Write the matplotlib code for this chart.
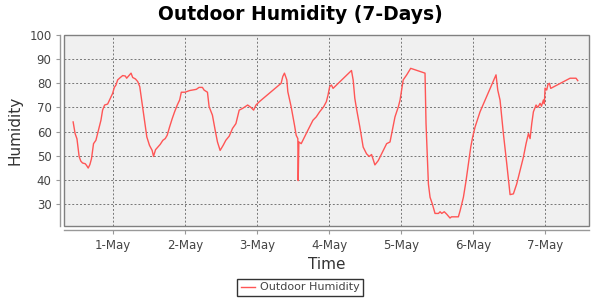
import matplotlib
matplotlib.use("Agg")
import matplotlib.pyplot as plt
import matplotlib.dates as mdates
from matplotlib.patches import Rectangle
import datetime as dt

# Time offsets in days from 1-May 00:00, and humidity readings
day_offsets = [
    -0.553, -0.526, -0.50, -0.47, -0.447, -0.423, -0.386, -0.367, -0.344, -0.321,
    -0.298, -0.27, -0.237, -0.20, -0.167, -0.144, -0.116, -0.074, -0.037, -0.005,
    0.019, 0.042, 0.065, 0.102, 0.135, 0.172, 0.19, 0.219, 0.251, 0.274,
    0.312, 0.344, 0.372, 0.405, 0.437, 0.47, 0.507, 0.544, 0.563, 0.591,
    0.623, 0.656, 0.693, 0.726, 0.753, 0.786, 0.823, 0.856, 0.893, 0.926,
    0.949, 1.0, 1.065, 1.158, 1.195, 1.242, 1.265, 1.312, 1.335, 1.381,
    1.419, 1.451, 1.488, 1.53, 1.567, 1.614, 1.66, 1.707, 1.753, 1.80,
    1.87, 1.916, 1.953, 1.986, 2.033, 2.335, 2.358, 2.381, 2.414, 2.428,
    2.474, 2.521, 2.544, 2.567, 2.572, 2.581, 2.614, 2.66, 2.707, 2.777,
    2.823, 2.87, 2.926, 2.963, 2.986, 3.009, 3.033, 3.056, 3.312, 3.335,
    3.358, 3.381, 3.428, 3.474, 3.521, 3.558, 3.591, 3.637, 3.684, 3.753,
    3.80, 3.847, 3.87, 3.916, 3.963, 3.986, 4.03, 4.079, 4.134, 4.333,
    4.347, 4.38, 4.403, 4.435, 4.472, 4.52, 4.542, 4.565, 4.60, 4.634,
    4.68, 4.70, 4.796, 4.82, 4.866, 4.903, 4.935, 4.968, 4.995, 5.028,
    5.051, 5.097, 5.319, 5.343, 5.375, 5.421, 5.468, 5.514, 5.56, 5.606,
    5.653, 5.699, 5.736, 5.769, 5.792, 5.815, 5.838, 5.875, 5.90, 5.931,
    5.95, 5.977, 5.99, 6.0, 6.023, 6.04, 6.06, 6.079, 6.347, 6.43, 6.454,
]
humidity = [
    64, 59.2, 57, 49.7, 47.8, 47, 46.7, 46, 44.9, 46.3,
    48.8, 55, 56.4, 60.8, 64.7, 68.9, 71, 71.4, 73.8, 75.8,
    78.3, 79.3, 81.4, 82.4, 83.2, 83, 82.1, 83.1, 84.2, 82.4,
    81.8, 80.7, 78.6, 71.7, 64.7, 57.8, 54.3, 52.2, 49.7, 52.5,
    53.6, 54.7, 56.4, 57.1, 58.5, 61.9, 65.4, 68.2, 71, 73.1,
    76.3, 76.3, 77, 77.5, 78.3, 78.3, 77.2, 76.3, 70.3, 66.8,
    60.6, 55.7, 52.2, 54.3, 56.4, 58.1, 61.3, 63.3, 68.9, 69.6,
    71, 70, 68.9, 71, 72.4, 80, 82.8, 84.2, 81.4, 76.5,
    70.3, 62.6, 58.5, 57.1, 39.7, 55.7, 55, 57.8, 60.6, 64.7,
    66.1, 68.2, 70.3, 72.4, 75.1, 78.6, 79.3, 77.9, 85.3, 81.4,
    73.8, 69.6, 61.9, 53.6, 50.8, 49.7, 50.5, 46.2, 48, 52.2,
    55, 55.7, 59.2, 66.1, 70.3, 73, 81.4, 83.5, 86.2, 84.2,
    63.3, 38.3, 32.8, 30, 26.1, 26.1, 26.8, 26.1, 26.8, 25.8,
    24.2, 24.7, 24.7, 27.2, 32.8, 39.7, 46.7, 53.6, 57.8, 61.9,
    64, 68.2, 83.5, 77.2, 73, 59.2, 46.7, 33.9, 34.2, 38.3,
    43.9, 49.4, 55, 59.2, 57.1, 63.3, 68.2, 71, 70, 71.7,
    70.5, 73.1, 71.5, 78, 77.2, 79.5, 80, 77.9, 82.1, 82.1, 81.1,
]

y_ticks = [30, 40, 50, 60, 70, 80, 90, 100]

base = dt.datetime(2016, 5, 1)
times = [base + dt.timedelta(days=d) for d in day_offsets]

fig = plt.figure(figsize=(6, 3), dpi=100)
ax = fig.add_axes([64/600, 1-226/300, (589-64)/600, (226-35)/300])
ax.set_facecolor("#F0F0F0")

ax.plot(times, humidity, color="#FF5555", lw=1.0, label="Outdoor Humidity")

ax.set_ylim(20.9, 100)
ax.set_yticks(y_ticks)
ax.set_xlim(base - dt.timedelta(days=0.68), base + dt.timedelta(days=6.61))
ax.xaxis.set_major_locator(mdates.DayLocator())
ax.xaxis.set_major_formatter(mdates.DateFormatter("%-d-%b"))

ax.grid(True, color="#777777", ls=(0, (2, 2)), lw=0.7)
ax.set_axisbelow(True)

for s in ["top", "right"]:
    ax.spines[s].set_visible(False)
for s in ["left", "bottom"]:
    ax.spines[s].set_position(("outward", 3))
    ax.spines[s].set_color("#999999")
    ax.spines[s].set_linewidth(1.0)
ax.add_patch(Rectangle((0, 0), 1, 1, transform=ax.transAxes, fill=False,
                       edgecolor="#808080", lw=1.0, clip_on=False, zorder=5))

ax.tick_params(axis="both", colors="#999999", labelcolor="#444444",
               labelsize=8.5, length=3, width=0.8, pad=3)

ax.set_ylabel("Humidity", fontsize=11, color="#333333", labelpad=5)
ax.set_xlabel("Time", fontsize=11, color="#333333", labelpad=4)
fig.suptitle("Outdoor Humidity (7-Days)", fontsize=13.5, fontweight="bold",
             y=0.985, x=0.5)

leg = fig.legend(loc="lower center", bbox_to_anchor=(0.5, 0.005), fontsize=8,
                 frameon=True, fancybox=False, handlelength=1.3,
                 borderpad=0.35, handletextpad=0.4, borderaxespad=0.2)
leg.get_frame().set_edgecolor("black")
leg.get_frame().set_linewidth(1.0)
for t in leg.get_texts():
    t.set_color("#444444")

fig.savefig("out.png", dpi=100)
